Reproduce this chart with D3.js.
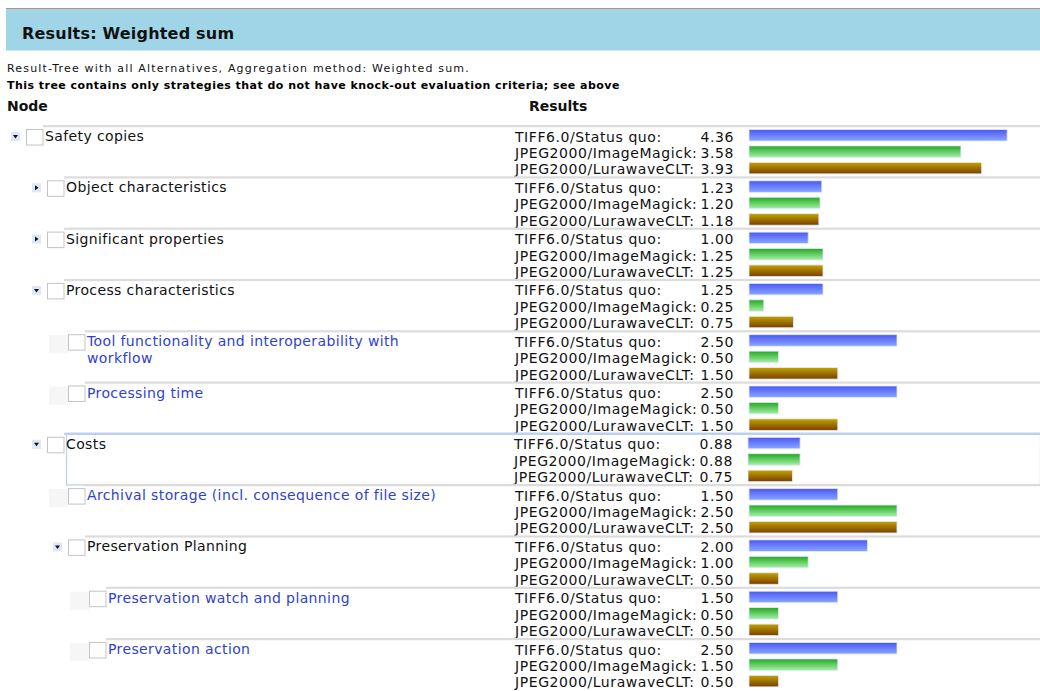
<!DOCTYPE html>
<html>
<head>
<meta charset="utf-8">
<script src="https://cdn.jsdelivr.net/npm/d3@7"></script>
<style>
  html, body { margin: 0; padding: 0; background: #fff; }
  svg { display: block; font-family: Verdana, "DejaVu Sans", sans-serif; }
</style>
</head>
<body>
<svg id="chart" width="1040" height="691"></svg>
<script>
// ---- data ----
const title = "Results: Weighted sum";
const subtitle = "Result-Tree with all Alternatives, Aggregation method: Weighted sum.";
const note = "This tree contains only strategies that do not have knock-out evaluation criteria; see above";
const nodeHeader = "Node";
const resultsHeader = "Results";

const nodes = [
  "Safety copies",
  "Object characteristics",
  "Significant properties",
  "Process characteristics",
  "Tool functionality and interoperability with\nworkflow",
  "Processing time",
  "Costs",
  "Archival storage (incl. consequence of file size)",
  "Preservation Planning",
  "Preservation watch and planning",
  "Preservation action"
];
const levels  = [0, 1, 1, 1, 2, 2, 1, 2, 2, 3, 3];
const toggles = ["open", "closed", "closed", "open", "none", "none", "open", "none", "open", "none", "none"];
const selectedNode = "Costs";

const alternatives = ["TIFF6.0/Status quo:", "JPEG2000/ImageMagick:", "JPEG2000/LurawaveCLT:"];
const tiffStatusQuo   = [4.36, 1.23, 1.00, 1.25, 2.50, 2.50, 0.88, 1.50, 2.00, 1.50, 2.50];
const jpegImageMagick = [3.58, 1.20, 1.25, 0.25, 0.50, 0.50, 0.88, 2.50, 1.00, 0.50, 1.50];
const jpegLurawave    = [3.93, 1.18, 1.25, 0.75, 1.50, 1.50, 0.75, 2.50, 0.50, 0.50, 0.50];
const seriesValues = [tiffStatusQuo, jpegImageMagick, jpegLurawave];

// ---- layout ----
const W = 1040, H = 691;
const svg = d3.select("#chart");

const defs = svg.append("defs");
const grads = [
  {id: "gBlue",  top: "#4a58f4", bot: "#8aa6ff"},
  {id: "gGreen", top: "#22a822", bot: "#a6f0a6"},
  {id: "gBrown", top: "#c2a400", bot: "#7a3f00"}
];
grads.forEach(g => {
  const lg = defs.append("linearGradient").attr("id", g.id)
    .attr("x1", 0).attr("y1", 0).attr("x2", 0).attr("y2", 1);
  lg.append("stop").attr("offset", "0%").attr("stop-color", g.top);
  lg.append("stop").attr("offset", "100%").attr("stop-color", g.bot);
});

// header band
svg.append("rect").attr("x", 6).attr("y", 8).attr("width", W - 6).attr("height", 1.5).attr("fill", "#9a9a9a");
svg.append("rect").attr("x", 6).attr("y", 9.5).attr("width", W - 6).attr("height", 41).attr("fill", "#9fd5e7");
svg.append("text").attr("x", 22).attr("y", 39).attr("font-size", 16).attr("font-weight", "bold")
  .attr("letter-spacing", 0.2).attr("fill", "#111").text(title);

svg.append("text").attr("x", 7).attr("y", 72).attr("font-size", 11).attr("letter-spacing", 1.18)
  .attr("fill", "#111").text(subtitle);
svg.append("text").attr("x", 7).attr("y", 89).attr("font-size", 11).attr("font-weight", "bold")
  .attr("letter-spacing", 0.46).attr("fill", "#000").text(note);
svg.append("text").attr("x", 7).attr("y", 111).attr("font-size", 14).attr("font-weight", "bold").attr("fill", "#111").text(nodeHeader);
svg.append("text").attr("x", 529).attr("y", 111).attr("font-size", 14).attr("font-weight", "bold").attr("fill", "#111").text(resultsHeader);

// scales
const groupY = d3.scaleLinear().domain([0, nodes.length]).range([125, 125 + 51.3 * nodes.length]);
const lineY = d3.scaleBand().domain(alternatives).range([2, 51.3]).paddingInner(0).paddingOuter(0);
const x = d3.scaleLinear().domain([0, 5]).range([749, 749 + 296]);
const indent = d3.scaleLinear().domain([0, 3]).range([26, 26 + 63]);

const groups = svg.append("g").selectAll("g.node").data(nodes).join("g")
  .attr("class", "node")
  .attr("transform", (d, i) => `translate(0,${groupY(i)})`);

groups.each(function(label, i) {
  const g = d3.select(this);
  const cb = indent(levels[i]);
  const selected = label === selectedNode;
  const sep = selected ? "#bcd0f0" : "#dcdcdc";

  // separator line
  g.append("rect").attr("x", cb + 17).attr("y", 0).attr("width", W - cb - 17).attr("height", 2.2).attr("fill", sep);
  if (selected) {
    g.append("rect").attr("x", cb + 19.5).attr("y", 0.5).attr("width", W - cb - 19).attr("height", 51.6)
      .attr("fill", "none").attr("stroke", "#bcd0f0").attr("stroke-width", 1.3);
  }

  // toggle / placeholder
  if (toggles[i] === "none") {
    g.append("rect").attr("x", cb - 19).attr("y", 5).attr("width", 19).attr("height", 18).attr("fill", "#f6f6f6");
  } else {
    const tx = cb - 15, ty = 7;
    g.append("rect").attr("x", tx).attr("y", ty).attr("width", 9).attr("height", 9).attr("fill", "#dfe7f4");
    const tri = toggles[i] === "open"
      ? `M${tx + 2},${ty + 3} L${tx + 7},${ty + 3} L${tx + 4.5},${ty + 6.5} Z`
      : `M${tx + 3},${ty + 2} L${tx + 3},${ty + 7} L${tx + 6.5},${ty + 4.5} Z`;
    g.append("path").attr("d", tri).attr("fill", "#111");
  }

  // checkbox
  g.append("rect").attr("x", cb + 0.5).attr("y", 4.5).attr("width", 16.5).attr("height", 15.5)
    .attr("fill", "#fff").attr("stroke", "#c4c4c4").attr("stroke-width", 1);

  // label
  const lines = label.split("\n");
  const t = g.append("text").attr("x", cb + 19).attr("y", 16).attr("font-size", 14)
    .attr("letter-spacing", 0.38)
    .attr("fill", toggles[i] === "none" ? "#2f3fd0" : "#111");
  lines.forEach((ln, k) => {
    t.append("tspan").attr("x", cb + 19).attr("dy", k === 0 ? 0 : 16.5).text(ln);
  });

  // results
  const off = selected ? -1 : 0;
  alternatives.forEach((alt, k) => {
    const v = seriesValues[k][i];
    const ly = lineY(alt);
    g.append("text").attr("x", 515 + off).attr("y", ly + 14.5).attr("font-size", 14)
      .attr("letter-spacing", 0.57).attr("fill", "#111").text(alt);
    g.append("text").attr("x", 734 + off).attr("y", ly + 14.5).attr("font-size", 14)
      .attr("letter-spacing", 0.57).attr("fill", "#111")
      .attr("text-anchor", "end").text(v.toFixed(2));
    g.append("rect").attr("x", x(0) + off).attr("y", ly + 2.5).attr("width", x(v) - x(0)).attr("height", 11.5)
      .attr("fill", `url(#${grads[k].id})`).attr("stroke", "#e4e8ff").attr("stroke-width", 0.8);
  });
});
</script>
</body>
</html>
